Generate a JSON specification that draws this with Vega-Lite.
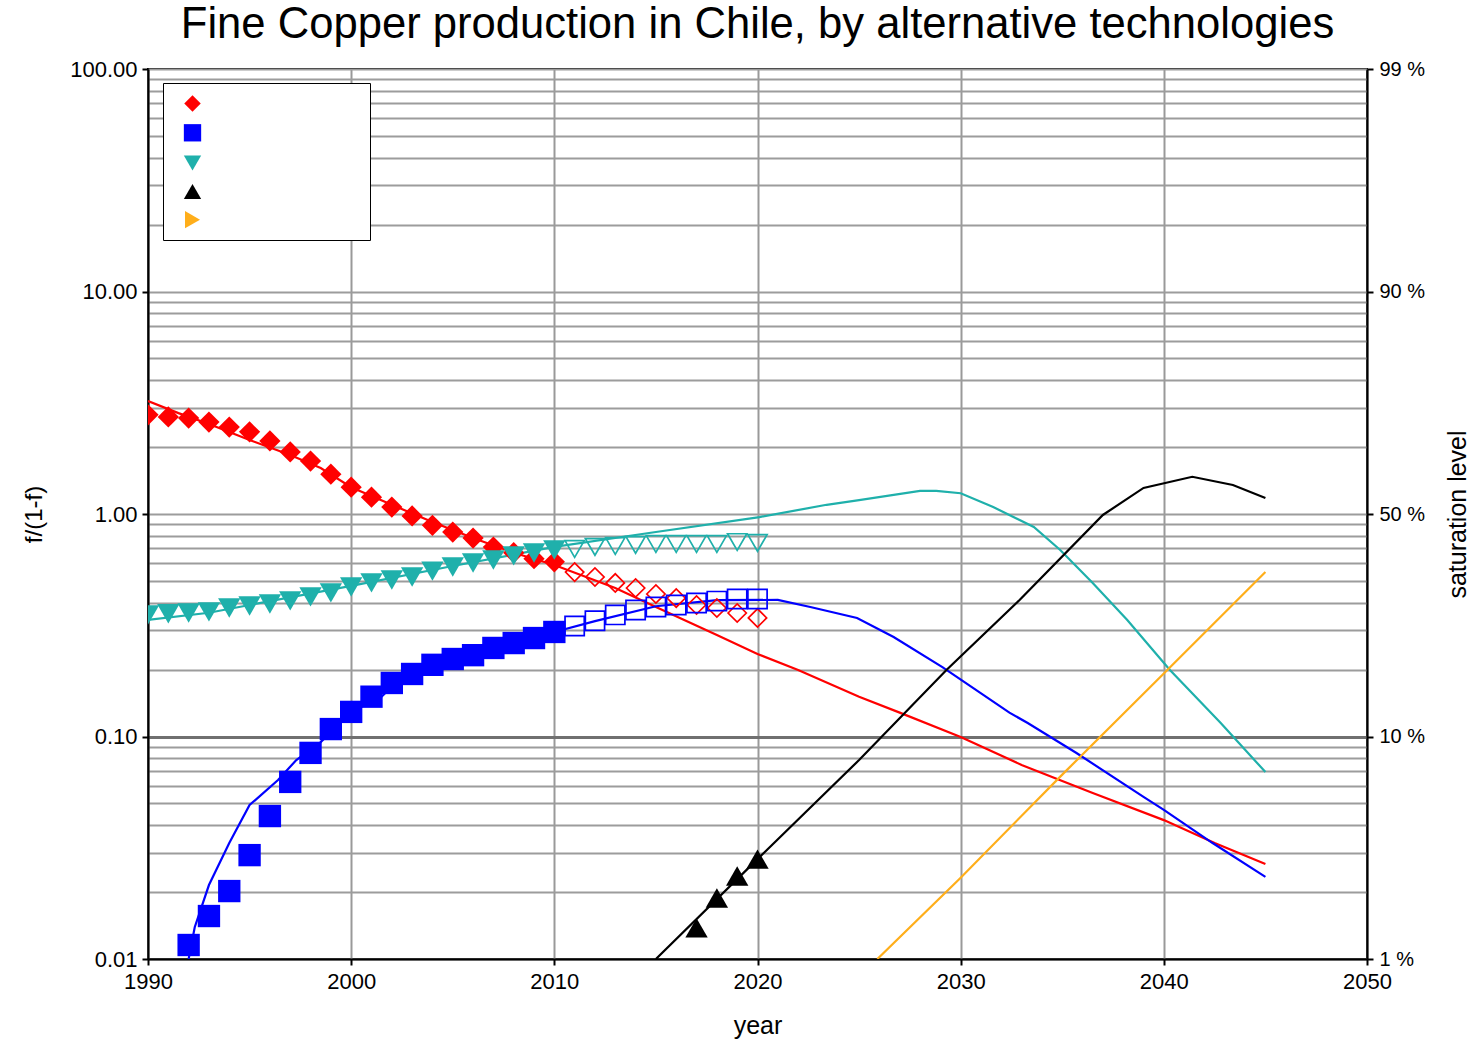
{
  "$schema": "https://vega.github.io/schema/vega-lite/v6.json",
  "width": 1219,
  "height": 890,
  "autosize": {"type": "none"},
  "padding": {"left": 148, "top": 69, "right": 113, "bottom": 83},
  "background": "white",
  "title": {"text": "Fine Copper production in Chile, by alternative technologies", "fontSize": 43.6, "font": "Liberation Sans", "fontWeight": "normal", "anchor": "middle", "offset": 10, "color": "black"},
  "config": {"view": {"stroke": "black", "strokeWidth": 2}, "font": "Liberation Sans"},
  "datasets": {
    "lines": [
      {"series": "tech1", "year": 1990, "value": 3.22},
      {"series": "tech1", "year": 1991.5, "value": 2.84},
      {"series": "tech1", "year": 1993, "value": 2.54},
      {"series": "tech1", "year": 1995, "value": 2.15},
      {"series": "tech1", "year": 1997, "value": 1.84},
      {"series": "tech1", "year": 1998.5, "value": 1.61},
      {"series": "tech1", "year": 2000, "value": 1.32},
      {"series": "tech1", "year": 2002, "value": 1.10},
      {"series": "tech1", "year": 2004, "value": 0.92},
      {"series": "tech1", "year": 2006, "value": 0.78},
      {"series": "tech1", "year": 2008, "value": 0.67},
      {"series": "tech1", "year": 2010, "value": 0.59},
      {"series": "tech1", "year": 2013, "value": 0.465},
      {"series": "tech1", "year": 2015, "value": 0.382},
      {"series": "tech1", "year": 2018, "value": 0.286},
      {"series": "tech1", "year": 2020, "value": 0.235},
      {"series": "tech1", "year": 2022, "value": 0.199},
      {"series": "tech1", "year": 2025, "value": 0.151},
      {"series": "tech1", "year": 2027, "value": 0.128},
      {"series": "tech1", "year": 2030, "value": 0.0995},
      {"series": "tech1", "year": 2033, "value": 0.0745},
      {"series": "tech1", "year": 2036.5, "value": 0.0557},
      {"series": "tech1", "year": 2040, "value": 0.0421},
      {"series": "tech1", "year": 2042.5, "value": 0.0332},
      {"series": "tech1", "year": 2045, "value": 0.0267},
      {"series": "tech2", "year": 1992, "value": 0.0100},
      {"series": "tech2", "year": 1992.3, "value": 0.0139},
      {"series": "tech2", "year": 1993, "value": 0.0215},
      {"series": "tech2", "year": 1994, "value": 0.0332},
      {"series": "tech2", "year": 1995, "value": 0.0492},
      {"series": "tech2", "year": 1996.4, "value": 0.0637},
      {"series": "tech2", "year": 1997.3, "value": 0.0784},
      {"series": "tech2", "year": 1998.5, "value": 0.0944},
      {"series": "tech2", "year": 2000, "value": 0.129},
      {"series": "tech2", "year": 2001.5, "value": 0.151},
      {"series": "tech2", "year": 2003, "value": 0.205},
      {"series": "tech2", "year": 2005, "value": 0.225},
      {"series": "tech2", "year": 2008, "value": 0.262},
      {"series": "tech2", "year": 2010, "value": 0.295},
      {"series": "tech2", "year": 2012, "value": 0.33},
      {"series": "tech2", "year": 2015, "value": 0.385},
      {"series": "tech2", "year": 2018, "value": 0.41},
      {"series": "tech2", "year": 2021, "value": 0.411},
      {"series": "tech2", "year": 2022.6, "value": 0.382},
      {"series": "tech2", "year": 2024.9, "value": 0.341},
      {"series": "tech2", "year": 2026.7, "value": 0.280},
      {"series": "tech2", "year": 2029.1, "value": 0.205},
      {"series": "tech2", "year": 2032.4, "value": 0.128},
      {"series": "tech2", "year": 2033.3, "value": 0.115},
      {"series": "tech2", "year": 2035.7, "value": 0.0843},
      {"series": "tech2", "year": 2039, "value": 0.0535},
      {"series": "tech2", "year": 2040, "value": 0.0468},
      {"series": "tech2", "year": 2042.4, "value": 0.0332},
      {"series": "tech2", "year": 2045, "value": 0.0234},
      {"series": "tech3", "year": 1990, "value": 0.334},
      {"series": "tech3", "year": 1993, "value": 0.36},
      {"series": "tech3", "year": 1995, "value": 0.39},
      {"series": "tech3", "year": 2000, "value": 0.475},
      {"series": "tech3", "year": 2005, "value": 0.584},
      {"series": "tech3", "year": 2010, "value": 0.711},
      {"series": "tech3", "year": 2015, "value": 0.83},
      {"series": "tech3", "year": 2020.1, "value": 0.969},
      {"series": "tech3", "year": 2023.4, "value": 1.10},
      {"series": "tech3", "year": 2025, "value": 1.155},
      {"series": "tech3", "year": 2028, "value": 1.27},
      {"series": "tech3", "year": 2028.8, "value": 1.27},
      {"series": "tech3", "year": 2030, "value": 1.24},
      {"series": "tech3", "year": 2031.6, "value": 1.075},
      {"series": "tech3", "year": 2033.6, "value": 0.874},
      {"series": "tech3", "year": 2034.9, "value": 0.689},
      {"series": "tech3", "year": 2036.5, "value": 0.490},
      {"series": "tech3", "year": 2038.2, "value": 0.334},
      {"series": "tech3", "year": 2040.3, "value": 0.199},
      {"series": "tech3", "year": 2042.8, "value": 0.115},
      {"series": "tech3", "year": 2045, "value": 0.0692},
      {"series": "tech4", "year": 2015, "value": 0.0100},
      {"series": "tech4", "year": 2020.1, "value": 0.0287},
      {"series": "tech4", "year": 2025, "value": 0.0784},
      {"series": "tech4", "year": 2029.3, "value": 0.199},
      {"series": "tech4", "year": 2032.9, "value": 0.411},
      {"series": "tech4", "year": 2037, "value": 0.99},
      {"series": "tech4", "year": 2039, "value": 1.31},
      {"series": "tech4", "year": 2041.4, "value": 1.47},
      {"series": "tech4", "year": 2043.4, "value": 1.35},
      {"series": "tech4", "year": 2045, "value": 1.18},
      {"series": "tech5", "year": 2025.9, "value": 0.0100},
      {"series": "tech5", "year": 2030, "value": 0.0232},
      {"series": "tech5", "year": 2035, "value": 0.0674},
      {"series": "tech5", "year": 2040, "value": 0.192},
      {"series": "tech5", "year": 2045, "value": 0.549}
    ],
    "points": [
      {"series": "tech1", "kind": "filled", "year": 1990, "value": 2.79},
      {"series": "tech1", "kind": "filled", "year": 1991, "value": 2.73},
      {"series": "tech1", "kind": "filled", "year": 1992, "value": 2.70},
      {"series": "tech1", "kind": "filled", "year": 1993, "value": 2.59},
      {"series": "tech1", "kind": "filled", "year": 1994, "value": 2.46},
      {"series": "tech1", "kind": "filled", "year": 1995, "value": 2.34},
      {"series": "tech1", "kind": "filled", "year": 1996, "value": 2.13},
      {"series": "tech1", "kind": "filled", "year": 1997, "value": 1.90},
      {"series": "tech1", "kind": "filled", "year": 1998, "value": 1.73},
      {"series": "tech1", "kind": "filled", "year": 1999, "value": 1.51},
      {"series": "tech1", "kind": "filled", "year": 2000, "value": 1.32},
      {"series": "tech1", "kind": "filled", "year": 2001, "value": 1.19},
      {"series": "tech1", "kind": "filled", "year": 2002, "value": 1.075},
      {"series": "tech1", "kind": "filled", "year": 2003, "value": 0.98},
      {"series": "tech1", "kind": "filled", "year": 2004, "value": 0.89},
      {"series": "tech1", "kind": "filled", "year": 2005, "value": 0.83},
      {"series": "tech1", "kind": "filled", "year": 2006, "value": 0.78},
      {"series": "tech1", "kind": "filled", "year": 2007, "value": 0.71},
      {"series": "tech1", "kind": "filled", "year": 2008, "value": 0.67},
      {"series": "tech1", "kind": "filled", "year": 2009, "value": 0.63},
      {"series": "tech1", "kind": "filled", "year": 2010, "value": 0.61},
      {"series": "tech1", "kind": "open", "year": 2011, "value": 0.548},
      {"series": "tech1", "kind": "open", "year": 2012, "value": 0.521},
      {"series": "tech1", "kind": "open", "year": 2013, "value": 0.490},
      {"series": "tech1", "kind": "open", "year": 2014, "value": 0.465},
      {"series": "tech1", "kind": "open", "year": 2015, "value": 0.437},
      {"series": "tech1", "kind": "open", "year": 2016, "value": 0.419},
      {"series": "tech1", "kind": "open", "year": 2017, "value": 0.390},
      {"series": "tech1", "kind": "open", "year": 2018, "value": 0.378},
      {"series": "tech1", "kind": "open", "year": 2019, "value": 0.359},
      {"series": "tech1", "kind": "open", "year": 2020, "value": 0.341},
      {"series": "tech2", "kind": "filled", "year": 1992, "value": 0.01156},
      {"series": "tech2", "kind": "filled", "year": 1993, "value": 0.0156},
      {"series": "tech2", "kind": "filled", "year": 1994, "value": 0.0202},
      {"series": "tech2", "kind": "filled", "year": 1995, "value": 0.0293},
      {"series": "tech2", "kind": "filled", "year": 1996, "value": 0.0439},
      {"series": "tech2", "kind": "filled", "year": 1997, "value": 0.0625},
      {"series": "tech2", "kind": "filled", "year": 1998, "value": 0.0844},
      {"series": "tech2", "kind": "filled", "year": 1999, "value": 0.108},
      {"series": "tech2", "kind": "filled", "year": 2000, "value": 0.129},
      {"series": "tech2", "kind": "filled", "year": 2001, "value": 0.151},
      {"series": "tech2", "kind": "filled", "year": 2002, "value": 0.174},
      {"series": "tech2", "kind": "filled", "year": 2003, "value": 0.191},
      {"series": "tech2", "kind": "filled", "year": 2004, "value": 0.210},
      {"series": "tech2", "kind": "filled", "year": 2005, "value": 0.223},
      {"series": "tech2", "kind": "filled", "year": 2006, "value": 0.232},
      {"series": "tech2", "kind": "filled", "year": 2007, "value": 0.250},
      {"series": "tech2", "kind": "filled", "year": 2008, "value": 0.263},
      {"series": "tech2", "kind": "filled", "year": 2009, "value": 0.277},
      {"series": "tech2", "kind": "filled", "year": 2010, "value": 0.295},
      {"series": "tech2", "kind": "open", "year": 2011, "value": 0.314},
      {"series": "tech2", "kind": "open", "year": 2012, "value": 0.331},
      {"series": "tech2", "kind": "open", "year": 2013, "value": 0.352},
      {"series": "tech2", "kind": "open", "year": 2014, "value": 0.370},
      {"series": "tech2", "kind": "open", "year": 2015, "value": 0.382},
      {"series": "tech2", "kind": "open", "year": 2016, "value": 0.390},
      {"series": "tech2", "kind": "open", "year": 2017, "value": 0.398},
      {"series": "tech2", "kind": "open", "year": 2018, "value": 0.406},
      {"series": "tech2", "kind": "open", "year": 2019, "value": 0.415},
      {"series": "tech2", "kind": "open", "year": 2020, "value": 0.415},
      {"series": "tech3", "kind": "filled", "year": 1990, "value": 0.352},
      {"series": "tech3", "kind": "filled", "year": 1991, "value": 0.356},
      {"series": "tech3", "kind": "filled", "year": 1992, "value": 0.359},
      {"series": "tech3", "kind": "filled", "year": 1993, "value": 0.363},
      {"series": "tech3", "kind": "filled", "year": 1994, "value": 0.378},
      {"series": "tech3", "kind": "filled", "year": 1995, "value": 0.386},
      {"series": "tech3", "kind": "filled", "year": 1996, "value": 0.394},
      {"series": "tech3", "kind": "filled", "year": 1997, "value": 0.407},
      {"series": "tech3", "kind": "filled", "year": 1998, "value": 0.424},
      {"series": "tech3", "kind": "filled", "year": 1999, "value": 0.442},
      {"series": "tech3", "kind": "filled", "year": 2000, "value": 0.470},
      {"series": "tech3", "kind": "filled", "year": 2001, "value": 0.490},
      {"series": "tech3", "kind": "filled", "year": 2002, "value": 0.505},
      {"series": "tech3", "kind": "filled", "year": 2003, "value": 0.521},
      {"series": "tech3", "kind": "filled", "year": 2004, "value": 0.554},
      {"series": "tech3", "kind": "filled", "year": 2005, "value": 0.578},
      {"series": "tech3", "kind": "filled", "year": 2006, "value": 0.602},
      {"series": "tech3", "kind": "filled", "year": 2007, "value": 0.621},
      {"series": "tech3", "kind": "filled", "year": 2008, "value": 0.648},
      {"series": "tech3", "kind": "filled", "year": 2009, "value": 0.668},
      {"series": "tech3", "kind": "filled", "year": 2010, "value": 0.689},
      {"series": "tech3", "kind": "open", "year": 2011, "value": 0.696},
      {"series": "tech3", "kind": "open", "year": 2012, "value": 0.711},
      {"series": "tech3", "kind": "open", "year": 2013, "value": 0.718},
      {"series": "tech3", "kind": "open", "year": 2014, "value": 0.726},
      {"series": "tech3", "kind": "open", "year": 2015, "value": 0.733},
      {"series": "tech3", "kind": "open", "year": 2016, "value": 0.733},
      {"series": "tech3", "kind": "open", "year": 2017, "value": 0.733},
      {"series": "tech3", "kind": "open", "year": 2018, "value": 0.733},
      {"series": "tech3", "kind": "open", "year": 2019, "value": 0.748},
      {"series": "tech3", "kind": "open", "year": 2020, "value": 0.741},
      {"series": "tech4", "kind": "filled", "year": 2017, "value": 0.0138},
      {"series": "tech4", "kind": "filled", "year": 2018, "value": 0.0188},
      {"series": "tech4", "kind": "filled", "year": 2019, "value": 0.0236},
      {"series": "tech4", "kind": "filled", "year": 2020, "value": 0.0281}
    ]
  },
  "layer": [
    {
      "data": {"name": "lines"},
      "mark": {"type": "line", "strokeWidth": 2.2, "clip": true},
      "encoding": {
        "x": {"field": "year", "type": "quantitative", "scale": {"domain": [1990, 2050], "nice": false, "zero": false},
          "axis": {"values": [1990, 2000, 2010, 2020, 2030, 2040, 2050], "format": "d", "title": "year", "grid": true, "gridColor": "#999999", "gridWidth": 2, "tickSize": 6, "tickColor": "black", "tickWidth": 2, "domainColor": "black", "domainWidth": 2, "labelFontSize": 22, "labelPadding": 6, "labelColor": "black", "labelFlush": false, "labelOverlap": false, "titleFontSize": 25, "titleFontWeight": "normal", "titleColor": "black", "titlePadding": 21}},
        "y": {"field": "value", "type": "quantitative", "scale": {"type": "log", "domain": [0.01, 100], "nice": false},
          "axis": {"orient": "left", "values": [0.01,0.02,0.03,0.04,0.05,0.06,0.07,0.08,0.09,0.1,0.2,0.3,0.4,0.5,0.6,0.7,0.8,0.9,1,2,3,4,5,6,7,8,9,10,20,30,40,50,60,70,80,90,100],
            "labelExpr": "abs(log(datum.value)/LN10 - round(log(datum.value)/LN10)) < 0.001 ? format(datum.value, '.2f') : ''",
            "tickSize": {"condition": {"test": "abs(log(datum.value)/LN10 - round(log(datum.value)/LN10)) < 0.001", "value": 6}, "value": 0},
            "grid": true,
            "gridColor": {"condition": {"test": "abs(datum.value - 0.1) < 0.000001", "value": "#707070"}, "value": "#9c9c9c"},
            "gridWidth": {"condition": {"test": "abs(datum.value - 0.1) < 0.000001", "value": 3}, "value": 1.8},
            "tickColor": "black", "tickWidth": 2, "domainColor": "black", "domainWidth": 2,
            "labelFontSize": 22, "labelPadding": 5, "labelColor": "black", "labelOverlap": false, "labelFlush": false,
            "title": "f/(1-f)", "titleFontSize": 24, "titleFontWeight": "normal", "titleColor": "black", "titlePadding": 23}},
        "color": {"field": "series", "type": "nominal", "scale": {"domain": ["tech1", "tech2", "tech3", "tech4", "tech5"], "range": ["#ff0000", "#0000ff", "#1fb0ab", "#000000", "#ffae1a"]}, "legend": null},
        "detail": {"field": "series"}
      }
    },
    {
      "data": {"name": "points"},
      "transform": [{"filter": "datum.kind == 'filled'"}],
      "mark": {"type": "point", "filled": true, "size": 500, "opacity": 1, "clip": true},
      "encoding": {
        "x": {"field": "year", "type": "quantitative"},
        "y": {"field": "value", "type": "quantitative", "axis": null},
        "color": {"field": "series", "type": "nominal",
          "legend": {"orient": "none", "legendX": 15, "legendY": 14, "title": null, "labelExpr": "''", "fillColor": "white", "strokeColor": "black", "padding": 11, "symbolOffset": 9, "labelOffset": 157, "rowPadding": 11.3, "symbolSize": 300}},
        "shape": {"field": "series", "type": "nominal", "scale": {"domain": ["tech1", "tech2", "tech3", "tech4", "tech5"], "range": ["M-0.95,0L0,-0.95L0.95,0L0,0.95Z", "square", "triangle-down", "triangle-up", "triangle-right"]},
          "legend": {"orient": "none", "legendX": 15, "legendY": 14, "title": null, "labelExpr": "''", "fillColor": "white", "strokeColor": "black", "padding": 11, "symbolOffset": 9, "labelOffset": 157, "rowPadding": 11.3, "symbolSize": 300}}
      }
    },
    {
      "data": {"name": "points"},
      "transform": [{"filter": "datum.kind == 'open'"}],
      "mark": {"type": "point", "filled": false, "size": 370, "strokeWidth": 1.7, "opacity": 1, "clip": true},
      "encoding": {
        "x": {"field": "year", "type": "quantitative"},
        "y": {"field": "value", "type": "quantitative",
          "axis": {"orient": "right", "values": [0.01, 0.1, 1, 10, 100],
            "labelExpr": "datum.value < 0.05 ? '1 %' : datum.value < 0.5 ? '10 %' : datum.value < 5 ? '50 %' : datum.value < 50 ? '90 %' : '99 %'",
            "grid": false, "tickSize": 6, "tickColor": "black", "tickWidth": 2, "domainColor": "black", "domainWidth": 2,
            "labelFontSize": 20, "labelPadding": 6, "labelColor": "black", "labelOverlap": false, "labelFlush": false,
            "title": "saturation level", "titleAngle": 270, "titleFontSize": 25, "titleFontWeight": "normal", "titleColor": "black", "titlePadding": 46}},
        "color": {"field": "series", "type": "nominal", "legend": null},
        "shape": {"field": "series", "type": "nominal", "legend": null}
      }
    }
  ],
  "resolve": {"axis": {"y": "independent"}, "legend": {"color": "independent", "shape": "independent"}}
}
